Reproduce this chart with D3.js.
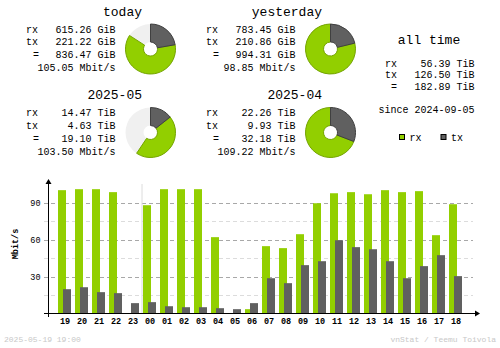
<!DOCTYPE html>
<html><head><meta charset="utf-8">
<script src="https://cdn.jsdelivr.net/npm/d3@7"></script>
<style>body{margin:0;background:#fff}svg{display:block}text{font-family:"Liberation Mono","DejaVu Sans Mono",monospace}</style>
</head><body>
<script>
// ---- data ----
const hours = ["19","20","21","22","23","00","01","02","03","04","05","06","07","08","09","10","11","12","13","14","15","16","17","18"];
const rxRate = [100.0,100.8,100.8,98.4,0,87.8,100.8,100.8,100.8,61.9,0,3.5,54.6,53.0,64.3,89.4,97.5,98.4,96.7,100.0,98.4,99.2,63.5,88.6];
const txRate = [19.7,21.3,17.3,16.5,8.4,9.2,5.9,5.1,5.1,4.3,3.5,8.4,28.6,24.6,39.2,42.4,59.4,53.8,52.1,42.4,28.6,38.4,47.3,30.3];
const majorTicks = [30,60,90];
const minorTicks = [15,45,75];
const blockTitles = ["today","yesterday","2025-05","2025-04"];
const blockRx = [615.26,783.45,14.47,22.26];
const blockTx = [221.22,210.86,4.63,9.93];
const blockTotal = [836.47,994.31,19.10,32.18];
const blockUnit = ["GiB","GiB","TiB","TiB"];
const blockRate = ["105.05","98.85","103.50","109.22"];
const allTime = {rx:"56.39 TiB", tx:"126.50 TiB", total:"182.89 TiB", since:"2024-09-05"};
const footerLeft = "2025-05-19 19:00";
const footerRight = "vnStat / Teemu Toivola";

const GREEN="#92cf00", GREEN_D="#74a400", GRAY="#606060", GRAY_D="#404040", UNUSED="#f0f0f0";

const svg = d3.select("body").append("svg").attr("width",500).attr("height",348);

// ---- summary blocks ----
const offs = [[0,0],[180,0],[0,83.5],[180,83.5]];
blockTitles.forEach((t,i)=>{
  const [dx,dy]=offs[i];
  const g = svg.append("g").attr("transform",`translate(${dx},${dy})`);
  g.append("text").attr("x",142).attr("y",15.5).attr("text-anchor","end").attr("font-size",13).text(t);
  const rows=[["rx",blockRx[i].toFixed(2)+" "+blockUnit[i],26,32.7],["tx",blockTx[i].toFixed(2)+" "+blockUnit[i],26,45],["=",blockTotal[i].toFixed(2)+" "+blockUnit[i],33,58.3]];
  rows.forEach(r=>{
    g.append("text").attr("x",r[2]).attr("y",r[3]).attr("font-size",10).text(r[0]);
    g.append("text").attr("x",115.5).attr("y",r[3]).attr("text-anchor","end").attr("font-size",10).text(r[1]);
  });
  g.append("text").attr("x",115.5).attr("y",71).attr("text-anchor","end").attr("font-size",10).text(blockRate[i]+" Mbit/s");
  // pie: relative to larger of pair
  const ref = Math.max(blockTotal[i - (i%2)], blockTotal[i - (i%2) + 1]);
  const a = d3.scaleLinear().domain([0,ref]).range([0,2*Math.PI]);
  const arc = d3.arc().innerRadius(7).outerRadius(25);
  const pg = g.append("g").attr("transform","translate(150.5,49)");
  pg.append("path").attr("d",arc({startAngle:0,endAngle:2*Math.PI})).attr("fill",UNUSED);
  pg.append("path").attr("d",arc({startAngle:a(blockTx[i]),endAngle:a(blockTotal[i])})).attr("fill",GREEN).attr("stroke",GREEN_D).attr("stroke-width",1);
  pg.append("path").attr("d",arc({startAngle:0,endAngle:a(blockTx[i])})).attr("fill",GRAY).attr("stroke",GRAY_D).attr("stroke-width",1);
});

// ---- all time ----
svg.append("text").attr("x",429).attr("y",43.5).attr("text-anchor","middle").attr("font-size",13).text("all time");
[["rx",allTime.rx,385,66.5],["tx",allTime.tx,385,78],["=",allTime.total,391,90]].forEach(r=>{
  svg.append("text").attr("x",r[2]).attr("y",r[3]).attr("font-size",10).text(r[0]);
  svg.append("text").attr("x",474.5).attr("y",r[3]).attr("text-anchor","end").attr("font-size",10).text(r[1]);
});
svg.append("text").attr("x",474.5).attr("y",112.5).attr("text-anchor","end").attr("font-size",10).text("since "+allTime.since);
// legend
[["rx",GREEN,399],["tx",GRAY,440.5]].forEach(l=>{
  svg.append("rect").attr("x",l[2]+0.5).attr("y",134.5).attr("width",5).attr("height",5).attr("fill",l[1]).attr("stroke","#000").attr("stroke-width",1);
  svg.append("text").attr("x",l[2]+10.5).attr("y",140.5).attr("font-size",10).text(l[0]);
});

// ---- hourly chart ----
const x = d3.scaleBand().domain(hours).range([56.5,464.5]).paddingInner(0).paddingOuter(0);
const y = d3.scaleLinear().domain([0,90]).range([313.5,202.5]);

const grid = svg.append("g");
minorTicks.forEach(v=>grid.append("line").attr("x1",44).attr("x2",473).attr("y1",Math.round(y(v))+0.5).attr("y2",Math.round(y(v))+0.5).attr("stroke","#dcdcdc").attr("stroke-dasharray","4,3"));
majorTicks.forEach(v=>grid.append("line").attr("x1",44).attr("x2",473).attr("y1",Math.round(y(v))+0.5).attr("y2",Math.round(y(v))+0.5).attr("stroke","#a8a8a8").attr("stroke-dasharray","4,3"));
// day divider
svg.append("line").attr("x1",x("00")+0.5).attr("x2",x("00")+0.5).attr("y1",184).attr("y2",313).attr("stroke","#dcdcdc");

svg.append("g").selectAll("rect").data(hours).join("rect")
  .attr("x",d=>x(d)+1.5).attr("width",8)
  .attr("y",(d,i)=>y(rxRate[i])).attr("height",(d,i)=>y(0)-y(rxRate[i]))
  .attr("fill",GREEN);
svg.append("g").selectAll("rect").data(hours).join("rect")
  .attr("x",d=>x(d)+6.5).attr("width",8)
  .attr("y",(d,i)=>y(txRate[i])).attr("height",(d,i)=>y(0)-y(txRate[i]))
  .attr("fill",GRAY);

// axes
const yAx = svg.append("g").attr("transform","translate(48.5,0)").call(d3.axisLeft(y).tickValues(majorTicks).tickSize(0).tickPadding(8));
yAx.select(".domain").remove();
yAx.selectAll("text").attr("font-family","Liberation Mono").attr("font-size",8.5).attr("fill","#000");
svg.append("line").attr("x1",48.5).attr("x2",48.5).attr("y1",184).attr("y2",317).attr("stroke","#000");
svg.append("path").attr("d","M45.5,184 L48.5,179 L51.5,184 Z").attr("fill","#000");
svg.append("line").attr("x1",44).attr("x2",476).attr("y1",313.5).attr("y2",313.5).attr("stroke","#000");
svg.append("path").attr("d","M475,310.5 L480,313.5 L475,316.5 Z").attr("fill","#000");

const xAx = svg.append("g").attr("transform","translate(0,313.5)").call(d3.axisBottom(x).tickSize(0).tickPadding(4));
xAx.select(".domain").remove();
xAx.selectAll("text").attr("font-family","Liberation Mono").attr("font-size",8.5).attr("font-weight","bold").attr("fill","#000");

svg.append("text").attr("transform","translate(17.5,244) rotate(-90)").attr("text-anchor","middle").attr("font-size",8.5).attr("font-weight","bold").text("Mbit/s");

// footer
svg.append("text").attr("x",4).attr("y",342).attr("font-size",8).attr("fill","#c8c8c8").text(footerLeft);
svg.append("text").attr("x",496).attr("y",342).attr("text-anchor","end").attr("font-size",8).attr("fill","#c8c8c8").text(footerRight);
</script>
</body></html>
